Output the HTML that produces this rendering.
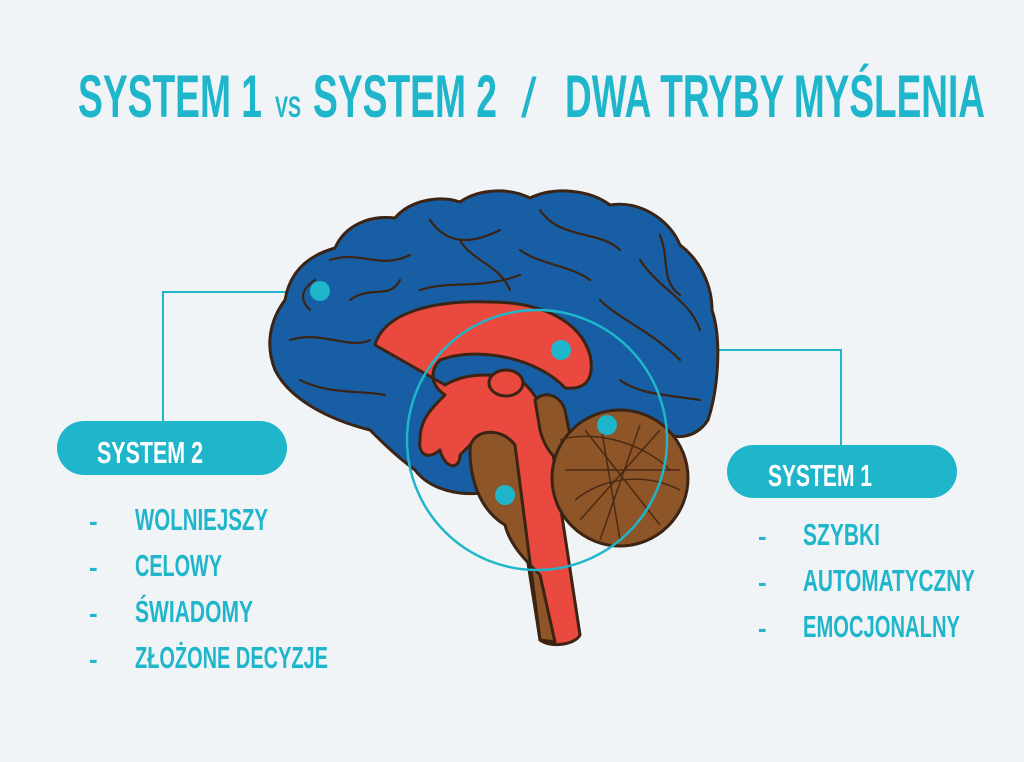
<!DOCTYPE html>
<html><head><meta charset="utf-8"><style>
html,body{margin:0;padding:0;background:#f1f4f7;}
svg{display:block;}
text{font-family:"Liberation Sans Narrow","Liberation Sans",sans-serif;font-weight:bold;}
</style></head><body>
<svg width="1024" height="762" viewBox="0 0 1024 762" xmlns="http://www.w3.org/2000/svg">
<rect width="1024" height="762" fill="#f1f4f7"/>
<g fill="#1fb6cb">
<text x="78" y="117" font-size="60" textLength="184" lengthAdjust="spacingAndGlyphs">SYSTEM 1</text>
<text x="275" y="117" font-size="30" textLength="26" lengthAdjust="spacingAndGlyphs">VS</text>
<text x="313" y="117" font-size="60" textLength="184" lengthAdjust="spacingAndGlyphs">SYSTEM 2</text>
<text x="521" y="117" font-size="56" font-weight="normal" style="font-weight:normal">/</text>
<text x="565" y="117" font-size="60" textLength="420" lengthAdjust="spacingAndGlyphs">DWA TRYBY MYŚLENIA</text>
</g>
<g stroke="#1fb6cb" stroke-width="2" fill="none">
<polyline points="320,292 163,292 163,425"/>
<polyline points="630,350 841,350 841,448"/>
</g>
<g stroke="#3b2414" stroke-width="3" stroke-linejoin="round">
<path d="M285,300 C290,270 310,255 335,248 C345,225 370,215 395,218 C410,200 440,195 460,202 C480,188 510,188 530,198 C555,186 590,190 610,205 C640,200 670,220 680,245 C700,260 712,285 712,310 C722,340 718,390 708,420 C695,440 672,440 660,430 L560,460 C540,480 520,490 490,492 C460,497 430,490 415,470 C395,455 380,440 370,430 C330,420 290,400 275,370 C265,345 270,320 285,300 Z" fill="#185ea4"/>
<path d="M375,345 C385,310 440,300 490,302 C540,302 580,320 590,355 C595,380 585,390 565,388 C540,360 480,345 440,360 C430,370 430,385 445,395 C430,410 420,420 420,440 C418,455 428,460 440,450 C445,470 460,470 460,455 L475,440 C490,445 510,455 515,480 L540,640 C550,648 575,645 580,635 L555,470 C550,420 540,395 520,380 C500,375 470,370 445,385 Z" fill="#e9493f"/>
<path d="M470,450 C470,430 500,425 515,445 L540,640 L555,642 L540,575 C525,560 510,545 505,525 C480,510 470,480 470,450 Z" fill="#8e5528"/>
<path d="M535,400 C545,390 560,395 565,410 L575,460 C560,470 545,450 540,430 Z" fill="#8e5528"/>
<circle cx="620" cy="478" r="68" fill="#8e5528"/>
<ellipse cx="506" cy="383" rx="17" ry="13" fill="#e9493f"/>
</g>
<g stroke="#3b2414" stroke-width="2.2" fill="none" stroke-linecap="round">
<path d="M330,260 C360,250 380,270 410,255"/><path d="M430,220 C450,250 480,240 500,230"/>
<path d="M540,210 C560,240 600,230 620,250"/><path d="M640,260 C660,290 690,300 700,330"/>
<path d="M290,340 C320,330 350,350 370,340"/><path d="M300,380 C330,395 360,390 385,395"/>
<path d="M600,300 C620,320 650,330 680,360"/><path d="M420,290 C450,280 480,290 520,275"/>
<path d="M350,300 C370,285 390,300 400,280"/><path d="M520,250 C540,265 570,265 590,280"/>
<path d="M620,380 C640,395 670,395 700,400"/><path d="M660,235 C670,260 660,280 680,295"/>
<path d="M460,240 C470,260 500,265 510,290"/><path d="M310,310 C300,300 300,290 315,280"/>
</g>
<g stroke="#4a2a14" stroke-width="1.5" fill="none">
<path d="M560,440 C590,430 640,440 670,470"/><path d="M575,500 C600,480 640,470 680,490"/>
<path d="M600,420 L620,540"/><path d="M640,425 L600,540"/><path d="M565,470 L680,470"/>
<path d="M660,430 L580,520"/><path d="M585,430 L660,525"/>
</g>
<circle cx="537" cy="440" r="130" fill="none" stroke="#1fb6cb" stroke-width="2.5"/>
<g fill="#1fb6cb">
<circle cx="320" cy="291" r="10"/><circle cx="561" cy="350" r="10"/>
<circle cx="607" cy="425" r="10"/><circle cx="505" cy="495" r="10"/>
<rect x="57" y="421" width="230" height="54" rx="27"/>
<rect x="727" y="445" width="230" height="53" rx="26.5"/>
</g>
<g fill="#fff">
<text x="97" y="463" font-size="31" textLength="106" lengthAdjust="spacingAndGlyphs">SYSTEM 2</text>
<text x="768" y="486" font-size="31" textLength="104" lengthAdjust="spacingAndGlyphs">SYSTEM 1</text>
</g>
<g fill="#1fb6cb" font-size="31">
<text x="89" y="530" font-size="26">-</text>
<text x="89" y="576" font-size="26">-</text>
<text x="89" y="622" font-size="26">-</text>
<text x="89" y="668" font-size="26">-</text>
<text x="135" y="530" textLength="133" lengthAdjust="spacingAndGlyphs">WOLNIEJSZY</text>
<text x="135" y="576" textLength="87" lengthAdjust="spacingAndGlyphs">CELOWY</text>
<text x="135" y="622" textLength="118" lengthAdjust="spacingAndGlyphs">ŚWIADOMY</text>
<text x="135" y="668" textLength="193" lengthAdjust="spacingAndGlyphs">ZŁOŻONE DECYZJE</text>
<text x="758" y="545" font-size="26">-</text>
<text x="758" y="591" font-size="26">-</text>
<text x="758" y="637" font-size="26">-</text>
<text x="803" y="545" textLength="77" lengthAdjust="spacingAndGlyphs">SZYBKI</text>
<text x="803" y="591" textLength="172" lengthAdjust="spacingAndGlyphs">AUTOMATYCZNY</text>
<text x="803" y="637" textLength="157" lengthAdjust="spacingAndGlyphs">EMOCJONALNY</text>
</g>
</svg>
</body></html>
